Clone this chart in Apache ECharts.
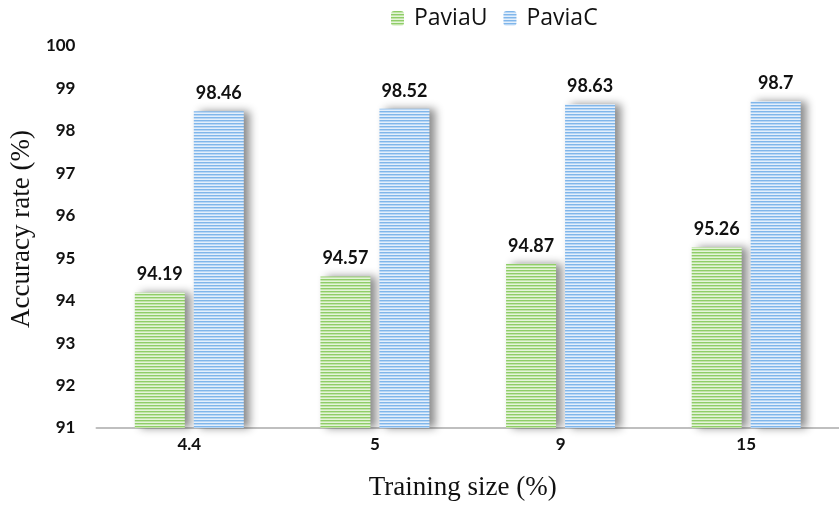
<!DOCTYPE html>
<html>
<head>
<meta charset="utf-8">
<script src="https://cdn.jsdelivr.net/npm/echarts@6/dist/echarts.min.js"></script>
<style>
  html, body { margin: 0; padding: 0; background: #fff; }
  #chart { width: 839px; height: 506px; }
</style>
</head>
<body>
<div id="chart"></div>
<script>
// Training sizes (%) on the x axis
const categories = ['4.4', '5', '9', '15'];
// Accuracy rates (%) for each dataset
const paviaU = [94.19, 94.57, 94.87, 95.26];
const paviaC = [98.46, 98.52, 98.63, 98.7];
const seriesNames = ['PaviaU', 'PaviaC'];

// Horizontal striped fill built on a small canvas tile
function stripes(colors) {
  const c = document.createElement('canvas');
  c.width = 4;
  c.height = colors.length;
  const ctx = c.getContext('2d');
  colors.forEach((col, i) => {
    ctx.fillStyle = col;
    ctx.fillRect(0, i, 4, 1);
  });
  return { image: c, repeat: 'repeat' };
}

const greenFill = stripes(['#8fcd68', '#c2e4a9', '#e4f4da']);
const blueFill = stripes(['#80b6ea', '#b7d6f5', '#e4effb']);

const labelStyle = {
  show: true,
  position: 'top',
  distance: 9,
  color: '#111',
  fontFamily: 'Lato',
  fontWeight: 'bold',
  fontSize: 18
};

const barShadow = {
  shadowColor: 'rgba(0,0,0,0.45)',
  shadowBlur: 8,
  shadowOffsetX: 6,
  shadowOffsetY: 0
};

const chart = echarts.init(document.getElementById('chart'), null, { renderer: 'canvas' });
chart.setOption({
  animation: false,
  backgroundColor: '#ffffff',
  legend: {
    data: seriesNames,
    top: 2,
    left: 386,
    itemWidth: 13,
    itemHeight: 15,
    itemGap: 16,
    textStyle: { fontFamily: 'Open Sans', fontSize: 23, color: '#111', padding: [0, 0, 0, 5] }
  },
  grid: { left: 94, top: 46, width: 764, height: 384 },
  xAxis: {
    type: 'category',
    data: categories,
    name: 'Training size (%)',
    nameLocation: 'middle',
    nameGap: 46,
    nameTextStyle: { fontFamily: 'Liberation Serif', fontSize: 27, color: '#111', padding: [0, 10, 0, 0] },
    axisLine: { lineStyle: { color: '#bfbfbf', width: 2 } },
    axisTick: { show: false },
    axisLabel: { fontFamily: 'Lato', fontWeight: 'bold', fontSize: 17, color: '#111', margin: 8 }
  },
  yAxis: {
    type: 'value',
    min: 91,
    max: 100,
    interval: 1,
    name: 'Accuracy rate (%)',
    nameLocation: 'middle',
    nameGap: 58,
    nameTextStyle: { fontFamily: 'Liberation Serif', fontSize: 27, color: '#111', padding: [0, 0, 0, 16] },
    axisLine: { show: false },
    axisTick: { show: false },
    splitLine: { show: false },
    axisLabel: { fontFamily: 'Lato', fontWeight: 'bold', fontSize: 17, color: '#111', margin: 21 }
  },
  series: [
    {
      name: seriesNames[0],
      type: 'bar',
      data: paviaU,
      barWidth: 50,
      barGap: '18%',
      itemStyle: Object.assign({ color: greenFill }, barShadow),
      label: labelStyle
    },
    {
      name: seriesNames[1],
      type: 'bar',
      data: paviaC,
      barWidth: 50,
      barGap: '18%',
      itemStyle: Object.assign({ color: blueFill }, barShadow),
      label: labelStyle
    }
  ]
});
</script>
</body>
</html>
